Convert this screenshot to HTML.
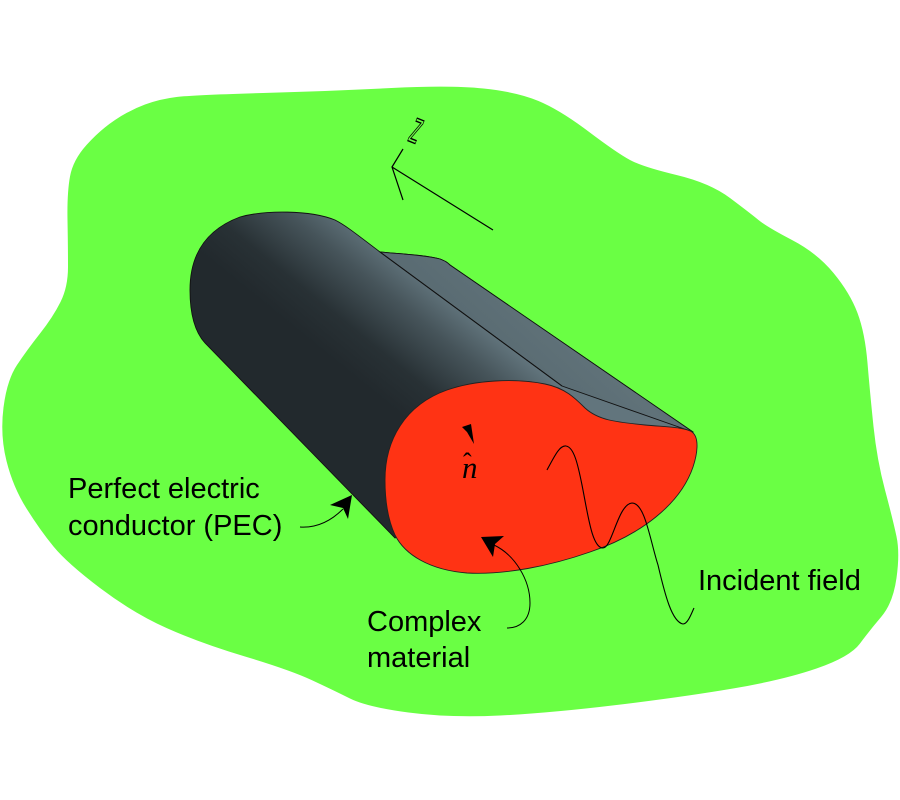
<!DOCTYPE html>
<html>
<head>
<meta charset="utf-8">
<style>
  html, body { margin: 0; padding: 0; background: #ffffff; }
  body { width: 900px; height: 800px; overflow: hidden; }
  svg { display: block; }
  .lbl { font-family: "Liberation Sans", Arial, sans-serif; font-size: 29px; fill: #000; }
</style>
</head>
<body>
<svg width="900" height="800" viewBox="0 0 900 800" xmlns="http://www.w3.org/2000/svg">
  <defs>
    <linearGradient id="bodyGrad" gradientUnits="userSpaceOnUse" x1="395" y1="410" x2="472" y2="315">
      <stop offset="0" stop-color="#22292d"/>
      <stop offset="0.3" stop-color="#283135"/>
      <stop offset="0.7" stop-color="#46545a"/>
      <stop offset="1" stop-color="#62757d"/>
    </linearGradient>
    <linearGradient id="panelGrad" gradientUnits="userSpaceOnUse" x1="470" y1="318" x2="540" y2="240">
      <stop offset="0" stop-color="#5a6c73"/>
      <stop offset="0.5" stop-color="#607279"/>
      <stop offset="1" stop-color="#55666d"/>
    </linearGradient>
  </defs>

  <!-- green background blob (smoothed) -->
  <path fill="#6aff44" d="M145,104.5
    Q160,99 176.5,97 Q193,95 263,93 Q333,91 391.5,88 Q450,85 483.5,88.5 Q517,92 538.5,101
    Q560,110 588.5,131.5 Q617,153 630,160 Q643,167 676.5,175 Q710,183 730,198 Q750,213 758.5,220
    Q767,227 792,240 Q817,253 833.5,273 Q850,293 857.5,313 Q865,333 867.5,363 Q870,393 873.5,426.5
    Q877,460 885,490 Q893,520 896.5,536.5 Q900,553 896.5,578 Q893,603 881.5,616.5 Q870,630 860,643.5
    Q850,657 816.5,668.5 Q783,680 733,688.5 Q683,697 616.5,705 Q550,713 500,715.5 Q450,718 408.5,712.5
    Q367,707 350,698.5 Q333,690 311.5,680 Q290,670 245,656.5 Q200,643 166.5,628 Q133,613 100,588
    Q67,563 53.5,546.5 Q40,530 26.5,508.5 Q13,487 6.5,461 Q0,435 3.5,407.5 Q7,380 17,365
    Q27,350 40,333.5 Q53,317 60.5,302 Q68,287 68,267 Q68,247 67.5,220 Q67,193 70,176.5
    Q73,160 86.5,145 Q100,130 115,120 Q130,110 145,104.5 Z"/>

  <!-- z axis symbol -->
  <path d="M493,230 L392,167 M403,149 L392,167 L403,200" fill="none" stroke="#000" stroke-width="1.2"/>
  <text x="0" y="0" font-family="Liberation Sans, sans-serif" font-size="20" fill="#6aff44" stroke="#000" stroke-width="1.1" vector-effect="non-scaling-stroke" transform="translate(416,131) rotate(22) scale(1,2.3) translate(-5,5.2)">z</text>

  <!-- cylinder body -->
  <path d="M205,343 C195,332 190,315 190,290 C190,255 205,230 240,217 C265,210 310,210 335,220 C345,225 355,233 380,252 C400,254 425,255 440,259 C445,261 447,262 450,265 L693,432 L395,538 Z"
        fill="url(#bodyGrad)" stroke="#111" stroke-width="0.9"/>
  <!-- right panel -->
  <path d="M380,252 C400,254 425,255 440,259 C445,261 447,262 450,265 L693,432 L562,386 Z"
        fill="url(#panelGrad)" stroke="#111" stroke-width="0.9"/>
  <!-- ridge line -->
  <path d="M380,252 L562,386" stroke="#111" stroke-width="1" fill="none"/>

  <!-- red front face -->
  <path d="M385,480 C385,440 405,405 447,390 C475,380 515,378 545,384 C565,388 575,398 585,408 C598,420 615,422 645,425 C665,427 685,427 692,432 C700,438 697,455 693,467 C680,505 640,535 590,552 C550,566 505,575 467,573 C430,570 405,555 395,535 C388,520 385,500 385,480 Z"
        fill="#ff3314" stroke="#222" stroke-width="0.9"/>

  <!-- n-hat with arrowhead -->
  <polygon points="462,427 471,424 474,444 467,432" fill="#000"/>
  <text x="462" y="478" font-family="Liberation Serif, serif" font-style="italic" font-size="31" fill="#000">n</text>
  <text x="463" y="471" font-family="Liberation Serif, serif" font-size="26" fill="#000">ˆ</text>

  <!-- incident field wave -->
  <path d="M547,470 C555,455 560,445 566,446 C574,447 578,465 582,485 C588,515 592,548 603,548 C612,548 618,504 632,503 C645,503 650,540 658,565 C665,595 672,622 683,624 C688,624 692,612 694,608"
        fill="none" stroke="#000" stroke-width="1.1"/>

  <!-- complex material arrow -->
  <path d="M494,545 C515,555 530,580 530,603 C530,620 520,628 507,628" fill="none" stroke="#000" stroke-width="1"/>
  <polygon points="481,537 504,536 495,544 493,557" fill="#000"/>

  <!-- PEC arrow -->
  <path d="M343,509 C330,522 315,528 300,527" fill="none" stroke="#000" stroke-width="1"/>
  <polygon points="352,495 348,519 343,508 330,505" fill="#000"/>

  <!-- labels -->
  <text class="lbl" x="68" y="498">Perfect electric</text>
  <text class="lbl" x="68" y="535">conductor (PEC)</text>
  <text class="lbl" x="367" y="631">Complex</text>
  <text class="lbl" x="367" y="667">material</text>
  <text class="lbl" x="698" y="590">Incident field</text>
</svg>
</body>
</html>
